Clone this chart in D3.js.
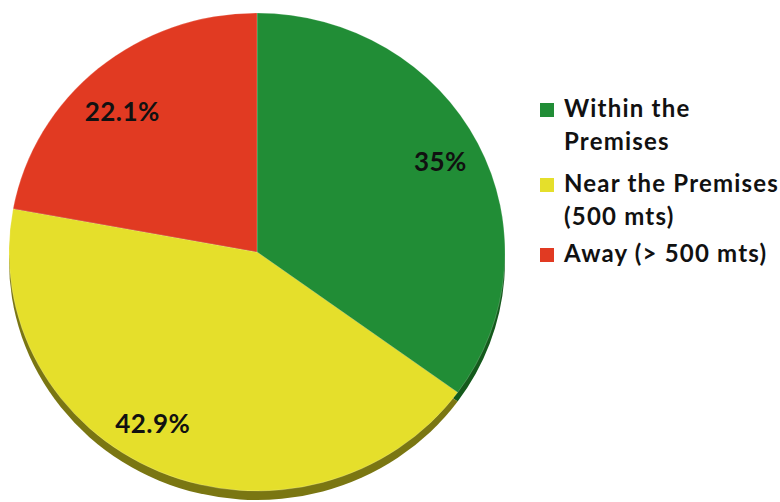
<!DOCTYPE html>
<html>
<head>
<meta charset="utf-8">
<script src="https://cdn.jsdelivr.net/npm/d3@7"></script>
<style>
  html, body { margin: 0; padding: 0; background: #fff; }
  svg { display: block; }
</style>
</head>
<body>
<svg id="chart" width="780" height="502"></svg>
<script>
const categories = ["Within the Premises", "Near the Premises (500 mts)", "Away (> 500 mts)"];
const legendLines = [["Within the", "Premises"], ["Near the Premises", "(500 mts)"], ["Away (> 500 mts)"]];
const values = [35, 42.9, 22.1];
const valueLabels = ["35%", "42.9%", "22.1%"];
const topColors = ["#218d36", "#e5df2b", "#e13a22"];
const sideColors = ["#145a1c", "#7a7612", "#8a2414"];

(function () {
const svg = d3.select("#chart");
const cx = 257, cy = 252, rx = 248, ry = 239, depth = 9;

const pie = d3.pie().sort(null).value(d => d)(values);
const arc = d3.arc().innerRadius(0).outerRadius(rx);

// side (depth) layer
const sideG = svg.append("g").attr("transform", `translate(${cx},${cy + depth}) scale(1,${ry / rx})`);
sideG.selectAll("path").data(pie).join("path")
  .attr("d", arc)
  .attr("fill", (d, i) => sideColors[i]);

// top layer
const topG = svg.append("g").attr("transform", `translate(${cx},${cy}) scale(1,${ry / rx})`);
topG.selectAll("path").data(pie).join("path")
  .attr("d", arc)
  .attr("fill", (d, i) => topColors[i])
  .attr("stroke", "rgba(255,255,255,0.25)")
  .attr("stroke-width", 0.8);

// labels (radial factor and angular nudge per slice)
const labelFactors = [0.83, 0.835, 0.80];
const labelShift = [0, 7, -3].map(a => a * Math.PI / 180);
svg.append("g").selectAll("text").data(pie).join("text")
  .attr("x", (d, i) => {
    const a = (d.startAngle + d.endAngle) / 2 + labelShift[i];
    return cx + Math.sin(a) * rx * labelFactors[i];
  })
  .attr("y", (d, i) => {
    const a = (d.startAngle + d.endAngle) / 2 + labelShift[i];
    return cy - Math.cos(a) * ry * labelFactors[i] + 9;
  })
  .attr("text-anchor", "middle")
  .attr("font-family", "Lato, 'Open Sans', sans-serif")
  .attr("font-weight", "bold")
  .attr("font-size", 26)
  .attr("letter-spacing", 0.5)
  .attr("fill", "#111")
  .text((d, i) => valueLabels[i]);

// legend
const baselines = [[117, 150], [192, 225], [262]];
const lg = svg.append("g");
categories.forEach((c, i) => {
  lg.append("rect")
    .attr("x", 540).attr("y", baselines[i][0] - 14)
    .attr("width", 14).attr("height", 14)
    .attr("fill", topColors[i]);
  const t = lg.append("text")
    .attr("font-family", "Lato, 'Open Sans', sans-serif")
    .attr("font-weight", "bold")
    .attr("font-size", 24)
    .attr("letter-spacing", 1.2)
    .attr("fill", "#111");
  legendLines[i].forEach((ln, j) => {
    t.append("tspan").attr("x", 564).attr("y", baselines[i][j]).text(ln);
  });
});
})();
</script>
</body>
</html>
